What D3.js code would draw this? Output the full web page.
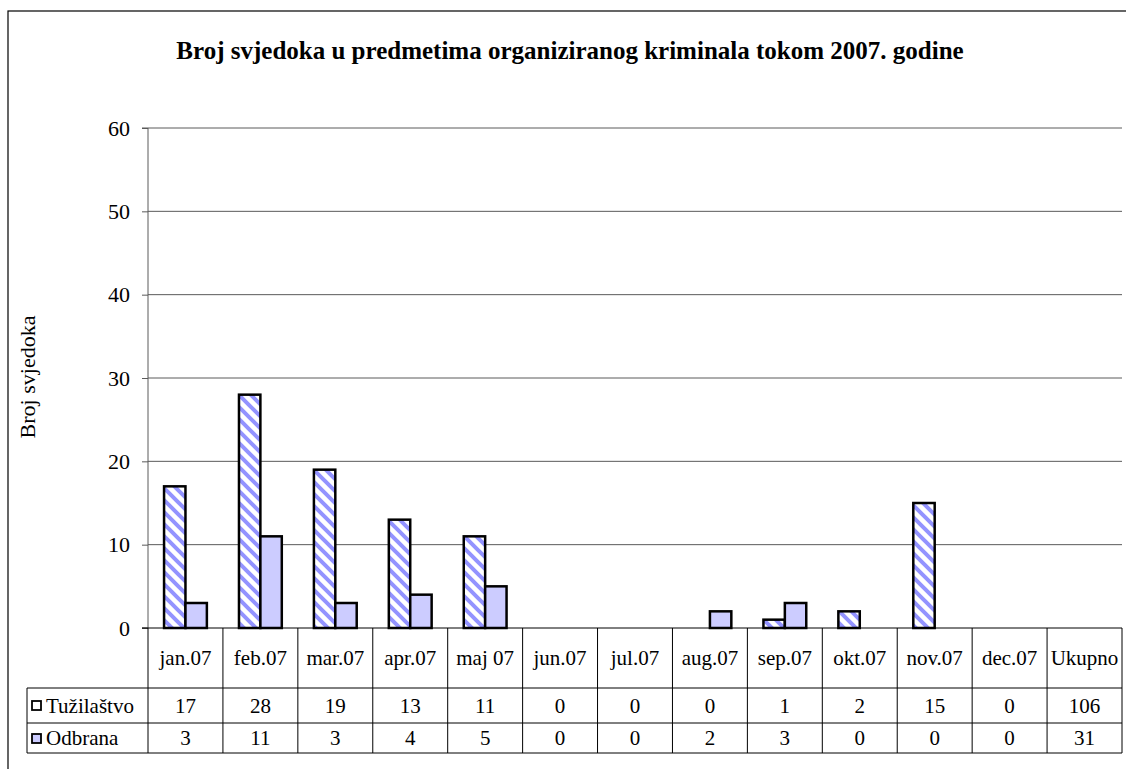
<!DOCTYPE html>
<html><head><meta charset="utf-8">
<script src="https://cdn.jsdelivr.net/npm/d3@7"></script>
<style>body{margin:0;background:#fff}svg{display:block}text{font-family:"Liberation Serif","Times New Roman",serif}</style>
</head><body>
<script>
const categories = ["jan.07","feb.07","mar.07","apr.07","maj 07","jun.07","jul.07","aug.07","sep.07","okt.07","nov.07","dec.07","Ukupno"];
const months = categories.slice(0,12);
const seriesNames = ["Tužilaštvo","Odbrana"];
const tuzilastvo = [17,28,19,13,11,0,0,0,1,2,15,0];
const odbrana = [3,11,3,4,5,0,0,2,3,0,0,0];
const totals = [106,31];
const yTicks = [0,10,20,30,40,50,60];
const title = "Broj svjedoka u predmetima organiziranog kriminala tokom 2007. godine";
const yLabel = "Broj svjedoka";

const W=1126,H=769;
const svg=d3.select("body").append("svg").attr("width",W).attr("height",H);
const defs=svg.append("defs");
const P=12;
const pat=defs.append("pattern").attr("id","hatch").attr("patternUnits","userSpaceOnUse").attr("width",P).attr("height",P);
pat.append("rect").attr("width",P).attr("height",P).attr("fill","#fff");
pat.append("path").attr("d",`M-3,-3L${P+3},${P+3}M-3,${P-3}L3,${P+3}M${P-3},-3L${P+3},3`).attr("stroke","#9393ff").attr("stroke-width",4);

const L=148,R=1122,T=128,B=628;
// outer border
svg.append("rect").attr("x",8).attr("y",11).attr("width",1130).attr("height",800).attr("fill","none").attr("stroke","#000").attr("stroke-width",1.2);

svg.append("text").attr("x",570).attr("y",59).attr("text-anchor","middle").attr("font-weight","bold").attr("font-size",25).text(title);

const x=d3.scaleBand().domain(categories).range([L,R]).paddingInner(0).paddingOuter(0);
const y=d3.scaleLinear().domain([0,60]).range([B,T]);

// gridlines
svg.append("g").selectAll("line").data(yTicks.filter(d=>d>0)).join("line")
 .attr("x1",L).attr("x2",R).attr("y1",d=>y(d)).attr("y2",d=>y(d)).attr("stroke","#5a5a5a").attr("stroke-width",1);

// y axis
const ya=svg.append("g").attr("transform",`translate(${L},0)`).call(d3.axisLeft(y).tickValues(yTicks).tickSize(6).tickPadding(12).tickFormat(d3.format("d")));
ya.attr("font-family","Liberation Serif");
ya.select(".domain").attr("stroke","#5a5a5a").attr("d",`M-6,${T}H0V${B}H-6`);
ya.selectAll(".tick line").attr("stroke","#5a5a5a");
ya.selectAll("text").attr("font-size",22).attr("fill","#000").attr("font-family","Liberation Serif");

svg.append("text").attr("transform",`translate(35,377) rotate(-90)`).attr("text-anchor","middle").attr("font-size",22).text(yLabel);

// bars
const bw=x.step()/3.5;
const inner=d3.scaleBand().domain(seriesNames).range([0.75*bw,0.75*bw+2*bw]);
const data=[];
months.forEach((m,i)=>{
  data.push({m,s:"Tužilaštvo",v:tuzilastvo[i]});
  data.push({m,s:"Odbrana",v:odbrana[i]});
});
svg.append("g").selectAll("rect").data(data.filter(d=>d.v>0)).join("rect")
 .attr("x",d=>x(d.m)+inner(d.s)).attr("width",inner.bandwidth())
 .attr("y",d=>y(d.v)).attr("height",d=>y(0)-y(d.v))
 .attr("fill",d=>d.s==="Tužilaštvo"?"url(#hatch)":"#ccccff")
 .attr("stroke","#000").attr("stroke-width",2.5);

// x axis line
svg.append("line").attr("x1",L-6).attr("x2",R).attr("y1",B).attr("y2",B).attr("stroke","#000").attr("stroke-width",1);

// data table
const tg=svg.append("g");
[688,723,753].forEach(yy=>tg.append("line").attr("x1",27).attr("x2",R).attr("y1",yy).attr("y2",yy).attr("stroke","#000"));
tg.append("line").attr("x1",27).attr("x2",27).attr("y1",688).attr("y2",753).attr("stroke","#000");
const bounds=categories.map(c=>x(c)).concat([R]);
tg.selectAll("line.v").data(bounds).join("line").attr("class","v")
 .attr("x1",d=>d).attr("x2",d=>d).attr("y1",B).attr("y2",753).attr("stroke","#000");
tg.selectAll("text.cat").data(categories).join("text").attr("class","cat")
 .attr("x",d=>x(d)+x.bandwidth()/2).attr("y",665).attr("text-anchor","middle").attr("font-size",21).text(d=>d);
const rows=[tuzilastvo.concat([totals[0]]),odbrana.concat([totals[1]])];
rows.forEach((r,ri)=>{
  const cy=ri===0?713:745;
  tg.selectAll("text.r"+ri).data(r).join("text").attr("class","r"+ri)
   .attr("x",(d,i)=>x(categories[i])+x.bandwidth()/2).attr("y",cy).attr("text-anchor","middle").attr("font-size",21).text(d=>d);
  tg.append("rect").attr("x",32).attr("y",ri===0?701:734).attr("width",9).attr("height",9)
   .attr("fill",ri===0?"#fff":"#ccccff").attr("stroke","#000").attr("stroke-width",1.8);
  tg.append("text").attr("x",46).attr("y",cy).attr("font-size",21).text(seriesNames[ri]);
});
</script>
</body></html>
